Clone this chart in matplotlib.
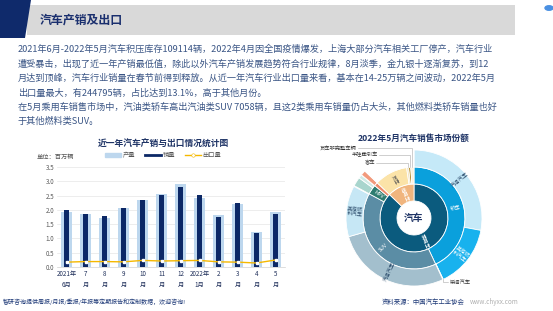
import numpy as np
import matplotlib
matplotlib.use('Agg')
import matplotlib.pyplot as plt
from matplotlib.patches import Polygon, Rectangle, Patch, Circle
from matplotlib.lines import Line2D

plt.rcParams['font.family'] = ['Noto Sans CJK SC', 'DejaVu Sans']

W, H = 553, 311

# ---- data: 近一年汽车产销与出口 (百万辆)
months = ['2021年\n6月', '7\n月', '8\n月', '9\n月', '10\n月', '11\n月', '12\n月',
          '2022年\n1月', '2\n月', '3\n月', '4\n月', '5\n月']
production = [1.94, 1.86, 1.73, 2.07, 2.33, 2.57, 2.90, 2.42, 1.81, 2.22, 1.21, 1.92]
sales = [2.01, 1.86, 1.80, 2.07, 2.33, 2.52, 2.79, 2.53, 1.74, 2.23, 1.18, 1.86]
exports = [0.17, 0.19, 0.19, 0.18, 0.23, 0.21, 0.22, 0.23, 0.18, 0.17, 0.14, 0.245]

# ---- data: 2022年5月汽车销售市场份额 (千辆)
inner_labels = ['乘用车', '商用车']
middle_labels = ['轿车', 'SUV', 'MPV', '交叉型乘用车', '货车', '客车', '半挂牵引车', '货车非完整车辆']
outer_labels = ['汽油汽车', '其他燃料汽车', '柴油汽车',
                '汽油汽车', '其他燃料汽车', '柴油汽车',
                '汽油汽车', '其他燃料汽车', '柴油汽车',
                '汽油汽车']
outer_parent = [0, 0, 0, 1, 1, 1, 2, 2, 2, 3]
outer_values = [517, 278, 2, 510, 225, 3, 40, 16, 1, 22]
commercial_values = [195, 12, 12, 19]

body = [
    '2021年6月-2022年5月汽车积压库存109114辆，2022年4月因全国疫情爆发，上海大部分汽车相关工厂停产，汽车行业',
    '遭受暴击，出现了近一年产销最低值，除此以外汽车产销发展趋势符合行业规律，8月淡季，金九银十逐渐复苏，到12',
    '月达到顶峰，汽车行业销量在春节前得到释放。从近一年汽车行业出口量来看，基本在14-25万辆之间波动，2022年5月',
    '出口量最大，有244795辆，占比达到13.1%，高于其他月份。',
    '在5月乘用车销售市场中，汽油类轿车高出汽油类SUV 7058辆，且这2类乘用车销量仍占大头，其他燃料类轿车销量也好',
    '于其他燃料类SUV。',
]
body_y = [49, 64, 78, 93, 107, 121]


def fx(x):
    return x / W


def fy(y):
    return 1 - y / H


fig = plt.figure(figsize=(W / 100, H / 100), dpi=100)
fig.patch.set_facecolor('white')

# header
fig.add_artist(Rectangle((fx(27), fy(35)), fx(515) - fx(27), fy(5) - fy(35),
                         transform=fig.transFigure, color='#d9d9d9', lw=0))
fig.add_artist(Polygon([(fx(0), fy(0)), (fx(31), fy(0)), (fx(25), fy(38)), (fx(0), fy(38))],
                       closed=True, transform=fig.transFigure, color='#0f2a6b', lw=0))
fig.text(fx(40), fy(20), '汽车产销及出口', fontsize=8.6, fontweight='bold',
         color='#1a2f6e', ha='left', va='center')
fig.add_artist(Circle((fx(549), fy(8)), 4 / W, transform=fig.transFigure, color='#4a90e2'))

for line, y in zip(body, body_y):
    fig.text(fx(18), fy(y), line, fontsize=6.6, color='#3a5585', ha='left', va='center')

# ---- left chart
ax1 = fig.add_axes([fx(57), fy(267), (285 - 57) / W, 100 / H])
x = np.arange(len(months))
ax1.bar(x, production, width=0.62, color='#bdd7ee', zorder=2)
ax1.bar(x, sales, width=0.26, color='#0c2866', zorder=3)
ax1.plot(x, exports, color='#f5b800', lw=1.0, marker='s', ms=2.0,
         mfc='white', mec='white', zorder=4)
ax1.set_xlim(-0.5, len(months) - 0.5)
ax1.set_ylim(0, 3.5)
ax1.set_yticks(np.arange(0, 3.6, 0.5))
ax1.set_yticklabels(['{:.1f}'.format(v) for v in np.arange(0, 3.6, 0.5)],
                    fontsize=4.5, color='#595959')
ax1.set_xticks(x)
ax1.set_xticklabels(months, fontsize=4.5, color='#1f2f5a', linespacing=1.6)
ax1.tick_params(length=0, pad=2)
ax1.grid(axis='y', color='#e6e6e6', lw=0.5, zorder=0)
for s in ['top', 'right', 'left']:
    ax1.spines[s].set_visible(False)
ax1.spines['bottom'].set_color('#d0d0d0')
ax1.spines['bottom'].set_linewidth(0.5)

fig.text(fx(163), fy(144), '近一年汽车产销与出口情况统计图', fontsize=6.3,
         fontweight='bold', color='#1f3466', ha='center', va='center')
fig.text(fx(37), fy(157), '单位：百万辆', fontsize=4.5, color='#555555',
         ha='left', va='center')
handles = [Patch(color='#bdd7ee'),
           Line2D([], [], color='#0c2866', lw=2),
           Line2D([], [], color='#f5b800', lw=1, marker='o', ms=2.5, mfc='white', mec='#f5b800', mew=0.4)]
fig.legend(handles, ['产量', '销量', '出口量'], loc='center', bbox_to_anchor=(fx(163), fy(155)),
           ncol=3, fontsize=4.5, frameon=False, handlelength=2.5, handleheight=0.6,
           columnspacing=1.6, handletextpad=0.3, labelcolor='#555555')

# ---- right chart: sunburst
fig.text(fx(414), fy(138), '2022年5月汽车销售市场份额', fontsize=6.2,
         fontweight='bold', color='#1f3466', ha='center', va='center')

ax2 = fig.add_axes([fx(294), fy(298), 240 / W, 160 / H])

middle_values = [sum(v for v, p in zip(outer_values, outer_parent) if p == i) for i in range(4)]
middle_values += commercial_values
inner_values = [sum(middle_values[:4]), sum(commercial_values)]
total = sum(inner_values)

inner_colors = ['#0b5b7e', '#f0b57e']
middle_colors = ['#0aa0dc', '#5b8da5', '#2e7c70', '#ec8b6b', '#fbe3a8', '#f3e4bf', '#a77b10', '#fdf2dc']
outer_colors = ['#c5e9f8', '#18b2ee', '#0d8fc6',
                '#a3bfcd', '#c6e7f5', '#7fa0b2',
                '#a8d5cd', '#d0ebe6', '#7fbfb3',
                '#f29a7c', 'none']

wp = dict(width=17, edgecolor='white', linewidth=0.6)
ax2.pie(inner_values, radius=34, startangle=90, counterclock=False, colors=inner_colors, wedgeprops=wp)
ax2.pie(middle_values, radius=51, startangle=90, counterclock=False, colors=middle_colors, wedgeprops=wp)
ax2.pie(outer_values + [sum(commercial_values)], radius=68, startangle=90, counterclock=False,
        colors=outer_colors, wedgeprops=wp)
ax2.set_xlim(-120, 120)
ax2.set_ylim(-80, 80)
ax2.set_aspect('equal')
ax2.axis('off')

ax2.text(0, 0, '汽车', fontsize=7, fontweight='bold', color='#1f3466', ha='center', va='center')


def mid_angle(values, i):
    start = sum(values[:i]) / total * 360
    return start + values[i] / total * 180


def ring_text(values, labels, r, colors, min_deg):
    for i, lab in enumerate(labels):
        if values[i] / total * 360 < min_deg:
            continue
        t = mid_angle(values, i)
        a = 90 - t
        rot = (a + 360) % 360
        if 90 < rot <= 270:
            rot -= 180
        if len(lab) > 4:
            lab = lab[:3] + '\n' + lab[3:]
        ax2.text(r * np.cos(np.radians(a)), r * np.sin(np.radians(a)), lab,
                 rotation=rot, fontsize=3.8, color=colors[i], ha='center', va='center',
                 rotation_mode='anchor', linespacing=1.1)


ring_text(inner_values, inner_labels, 25.5, ['white', 'white'], 20)
ring_text(middle_values, middle_labels, 42.5, ['white', 'white', 'white', 'white', '#555555',
                                             '#555555', 'white', '#555555'], 9)
ring_text(outer_values, outer_labels, 59.5, ['#2a4a6a', 'white', 'white', '#2a4a6a', '#2a4a6a',
                                            'white', '#2a4a6a', '#2a4a6a', 'white', 'white'], 12)

# leader labels for small commercial slices
leader_y = {'客车': 55, '半挂牵引车': 63, '货车非完整车辆': 70}
leader_tx = {'客车': -39, '半挂牵引车': -36, '货车非完整车辆': -57}
for i, lab in enumerate(middle_labels):
    if lab in leader_y:
        t = np.radians(mid_angle(middle_values, i))
        px, py = 51 * np.sin(t), 51 * np.cos(t)
        ly = leader_y[lab]
        ax2.plot([leader_tx[lab] + 1, px, px], [ly, ly, py], color='#aaaaaa', lw=0.4)
        ax2.text(leader_tx[lab], ly, lab, fontsize=3.8, color='#333333', ha='right', va='center')

t = np.radians(mid_angle(outer_values, 2))
px, py = 68 * np.sin(t), 68 * np.cos(t)
ax2.plot([px, px, 34], [py, -64, -64], color='#aaaaaa', lw=0.4)
ax2.text(36, -64, '柴油汽车', fontsize=3.8, color='#333333', ha='left', va='center')

# footer
fig.text(fx(3), fy(302), '智研咨询提供周报/月报/季报/年报等定期报告和定制数据，欢迎咨询!', fontsize=4.3,
         color='#1f3a78', ha='left', va='center')
fig.text(fx(382), fy(302), '资料来源：中国汽车工业协会', fontsize=4.6, color='#1f3a78',
         ha='left', va='center')
fig.text(fx(470), fy(302), 'www.chyxx.com', fontsize=4.6, color='#b0b0b0',
         ha='left', va='center')

fig.savefig('out.png', dpi=100)
